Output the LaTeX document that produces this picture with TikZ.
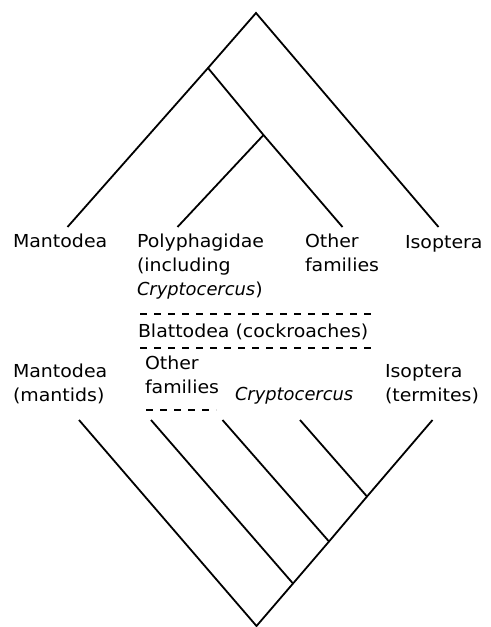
\documentclass[tikz,border=0pt]{standalone}
\usepackage{fontspec}
\setmainfont{DejaVu Sans}
\newfontfamily\lab{DejaVu Sans}[FakeStretch=1.06]
\begin{document}
\begin{tikzpicture}[x=0.75pt,y=-0.75pt,
  br/.style={line width=1.35pt},
  dsh/.style={line width=1.15pt, dash pattern=on 5.25pt off 5.25pt},
  lbl/.style={font=\lab\fontsize{13.4}{18}\selectfont, inner sep=0pt, outer sep=0pt, anchor=base west, align=left}]
\useasboundingbox (0,0) rectangle (490,627);
% upper tree
\coordinate (tr) at (256,13);
\coordinate (ta) at (208,68);
\coordinate (tb) at (263.5,135);
\coordinate (tl1) at (67.5,227);
\coordinate (tl2) at (177.5,227);
\coordinate (tl3) at (342.5,227);
\coordinate (tl4) at (438.5,227);
\draw[br] (tl1) -- (ta) -- (tr) -- (tl4);
\draw[br] (ta) -- (tb) -- (tl3);
\draw[br] (tb) -- (tl2);
% upper labels (base anchor = baseline of last line)
\node[lbl] (tMan) at (13,247) {Mantodea};
\node[lbl] (tPoly) at (137,295) {Polyphagidae\\(including\\{\normalfont\itshape Cryptocercus})};
\node[lbl] (tOth) at (305,271) {Other\\families};
\node[lbl] (tIso) at (405,248) {Isoptera};
% Blattodea band
\coordinate (d1a) at (140,314);
\coordinate (d1b) at (375,314);
\coordinate (d2a) at (140,348);
\coordinate (d2b) at (375,348);
\draw[dsh] (d1a) -- (d1b);
\draw[dsh] (d2a) -- (d2b);
\node[lbl] (blat) at (138,337) {Blattodea (cockroaches)};
% lower labels
\node[lbl] (bMan) at (13,401) {Mantodea\\(mantids)};
\node[lbl] (bOth) at (145,393) {Other\\families};
\coordinate (d3a) at (146,410);
\coordinate (d3b) at (216,410);
\draw[dsh] (d3a) -- (d3b);
\node[lbl] (bCry) at (235,400) {\normalfont\itshape Cryptocercus};
\node[lbl] (bIso) at (385,401) {Isoptera\\(termites)};
% lower tree
\coordinate (brt) at (256.5,626);
\coordinate (bn3) at (293,583.5);
\coordinate (bn2) at (329,541.5);
\coordinate (bn1) at (367,496.5);
\coordinate (bl1) at (79,420);
\coordinate (bl2) at (151,420);
\coordinate (bl3) at (222.5,420);
\coordinate (bl4) at (300,420);
\coordinate (bl5) at (432.5,420);
\draw[br] (bl1) -- (brt) -- (bn3) -- (bn2) -- (bn1) -- (bl5);
\draw[br] (bl2) -- (bn3);
\draw[br] (bl3) -- (bn2);
\draw[br] (bl4) -- (bn1);
\end{tikzpicture}
\end{document}
